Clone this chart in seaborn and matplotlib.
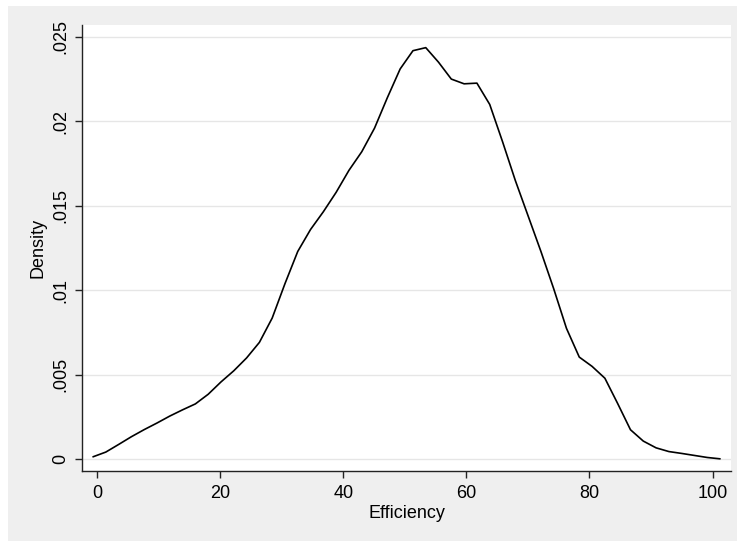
import matplotlib
matplotlib.use("Agg")
import matplotlib.pyplot as plt
from matplotlib.patches import Rectangle
from matplotlib.ticker import FixedLocator, FixedFormatter
import pandas as pd
import seaborn as sns

# kernel density estimate (50 grid points)
efficiency = [
    -0.65, 1.43, 3.51, 5.59, 7.67, 9.75, 11.82, 13.90, 15.98, 18.06,
    20.14, 22.22, 24.30, 26.38, 28.46, 30.54, 32.61, 34.69, 36.77, 38.85,
    40.93, 43.01, 45.09, 47.17, 49.25, 51.33, 53.41, 55.48, 57.56, 59.64,
    61.72, 63.80, 65.88, 67.96, 70.04, 72.12, 74.19, 76.27, 78.35, 80.43,
    82.51, 84.59, 86.67, 88.75, 90.83, 92.91, 94.98, 97.06, 99.14, 101.22,
]
density = [
    0.00015, 0.00043, 0.00088, 0.00134, 0.00176, 0.00215, 0.00256, 0.00293, 0.00328, 0.00385,
    0.00458, 0.00524, 0.00600, 0.00692, 0.00836, 0.01040, 0.01230, 0.01360, 0.01465, 0.01580,
    0.01710, 0.01820, 0.01960, 0.02140, 0.02310, 0.02418, 0.02436, 0.02350, 0.02250, 0.02222,
    0.02226, 0.02100, 0.01880, 0.01650, 0.01440, 0.01230, 0.01010, 0.00775, 0.00605, 0.00550,
    0.00480, 0.00330, 0.00175, 0.00108, 0.00068, 0.00046, 0.00035, 0.00023, 0.00011, 0.00003,
]
y_ticks = [0, 0.005, 0.01, 0.015, 0.02, 0.025]
y_tick_labels = ["0", ".005", ".01", ".015", ".02", ".025"]
x_ticks = [0, 20, 40, 60, 80, 100]

data = pd.DataFrame({"Efficiency": efficiency, "Density": density})

sns.set_theme(style="white")
plt.rcParams["font.family"] = ["Liberation Sans", "DejaVu Sans"]

fig = plt.figure(figsize=(7.38, 5.43), dpi=100)
fig.patch.set_facecolor("white")
# light grey graph region, like Stata's default scheme
fig.patches.append(Rectangle((8 / 738, 2 / 543), 729 / 738, 535 / 543,
                             transform=fig.transFigure, facecolor="#efefef",
                             edgecolor="none", zorder=-10))

ax = fig.add_axes([82 / 738, 1 - 471 / 543, 649 / 738, 446 / 543])
ax.set_facecolor("white")

sns.lineplot(data=data, x="Efficiency", y="Density", ax=ax,
             color="black", linewidth=1.2)

ax.set_xlim(-2.44, 103.0)
ax.set_ylim(-0.00069, 0.0257)

ax.yaxis.set_major_locator(FixedLocator(y_ticks))
ax.yaxis.set_major_formatter(FixedFormatter(y_tick_labels))
ax.set_xticks(x_ticks)

ax.grid(axis="y", color="#e6e6e6", linewidth=1.0)
ax.grid(axis="x", visible=False)
ax.set_axisbelow(True)

for side in ["top", "right"]:
    ax.spines[side].set_visible(False)
for side in ["left", "bottom"]:
    ax.spines[side].set_color("#222222")
    ax.spines[side].set_linewidth(1.0)

ax.tick_params(axis="both", which="major", direction="out", length=5,
               width=1.0, color="#222222", labelsize=13, labelcolor="black",
               left=True, bottom=True)
ax.tick_params(axis="y", pad=4)
ax.tick_params(axis="x", pad=5)
plt.setp(ax.get_yticklabels(), rotation=90, va="center")

ax.set_xlabel("Efficiency", fontsize=13, color="black", labelpad=2)
ax.set_ylabel("Density", fontsize=13, color="black", labelpad=4)

fig.savefig("out.png", dpi=100, facecolor=fig.get_facecolor())
